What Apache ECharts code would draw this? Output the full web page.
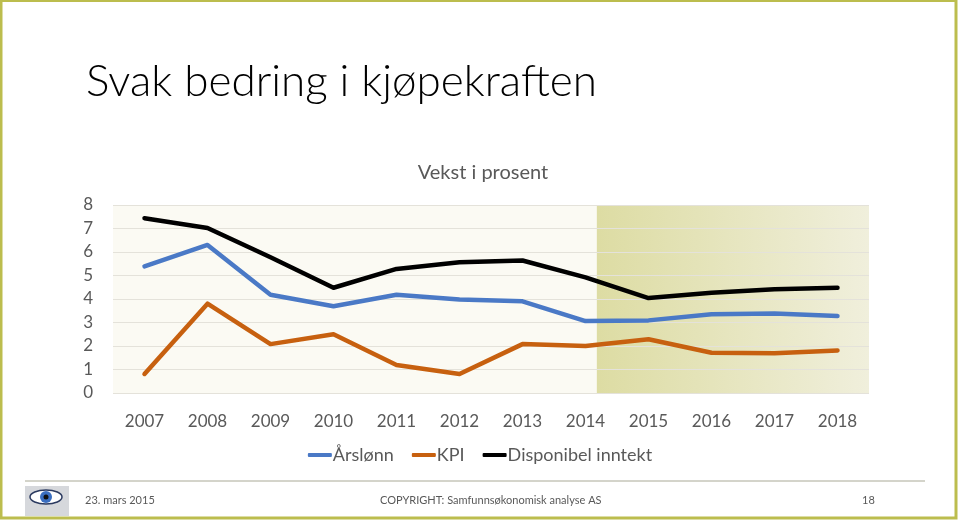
<!DOCTYPE html>
<html>
<head>
<meta charset="utf-8">
<script src="https://cdn.jsdelivr.net/npm/echarts@6/dist/echarts.min.js"></script>
<style>html,body{margin:0;padding:0;background:#fff}#c{width:960px;height:520px}</style>
</head>
<body>
<div id="c"></div>
<script>
var years = ['2007','2008','2009','2010','2011','2012','2013','2014','2015','2016','2017','2018'];
var arslonn = [5.39, 6.30, 4.18, 3.69, 4.18, 3.98, 3.90, 3.06, 3.09, 3.35, 3.38, 3.28];
var kpi = [0.81, 3.80, 2.08, 2.50, 1.19, 0.81, 2.08, 2.00, 2.29, 1.71, 1.69, 1.81];
var disponibel = [7.44, 7.02, 5.78, 4.48, 5.28, 5.56, 5.64, 4.92, 4.04, 4.27, 4.41, 4.48];
var seriesNames = ['Årslønn', 'KPI', 'Disponibel inntekt'];
var yTicks = [0, 8, 1];
var shadeFrom = 7.68;

var chart = echarts.init(document.getElementById('c'), null, {renderer: 'canvas'});
var font = 'Lato, "Open Sans", sans-serif';
var grey = '#595959';
function line(name, data, color) {
  return {name: name, type: 'line', data: data, symbol: 'none', smooth: false,
    lineStyle: {width: 4.5, color: color, cap: 'round', join: 'round'}, itemStyle: {color: color}, z: 3};
}
chart.setOption({
  animation: false,
  textStyle: {fontFamily: font},
  title: [
    {text: 'Svak bedring i kjøpekraften', left: 81, top: 55,
     textStyle: {fontFamily: font, fontWeight: 300, fontSize: 44, color: '#000'}},
    {text: 'Vekst i prosent', left: 478, top: 158, textAlign: 'center',
     textStyle: {fontFamily: font, fontWeight: 'normal', fontSize: 20, color: grey}}
  ],
  grid: {left: 113, right: 91, top: 205, bottom: 127, containLabel: false},
  legend: {data: seriesNames, top: 441, left: 'center', icon: 'roundRect', itemWidth: 24, itemHeight: 4,
    itemGap: 18, textStyle: {fontSize: 18, color: grey, fontFamily: font, padding: [0, 0, 0, -4]}},
  xAxis: [
    {type: 'category', data: years, boundaryGap: true,
     axisLine: {show: false}, axisTick: {show: false},
     axisLabel: {color: grey, fontSize: 17, margin: 20, fontFamily: font}},
    {type: 'value', min: 0, max: 12, show: false}
  ],
  yAxis: {type: 'value', min: yTicks[0], max: yTicks[1], interval: yTicks[2],
    axisLine: {show: false}, axisTick: {show: false},
    axisLabel: {color: grey, fontSize: 17, margin: 20, fontFamily: font},
    splitLine: {lineStyle: {color: '#e4e2da', width: 1}}},
  series: [
    {type: 'line', xAxisIndex: 1, data: [], silent: true, z: -5, zlevel: 0,
     markArea: {silent: true, z: -5, data: [
       [{xAxis: 0, itemStyle: {color: '#fbfaf3'}}, {xAxis: 12}],
       [{xAxis: shadeFrom, itemStyle: {color: {type: 'linear', x: 0, y: 0, x2: 1, y2: 0,
          colorStops: [{offset: 0, color: '#dddca3'}, {offset: 1, color: '#f0efdc'}]}}}, {xAxis: 12}]
     ]}},
    line(seriesNames[0], arslonn, '#4a79c6'),
    line(seriesNames[1], kpi, '#c7600f'),
    line(seriesNames[2], disponibel, '#000000')
  ],
  graphic: [
    {type: 'rect', shape: {x: 1, y: 0.5, width: 955, height: 517.5}, style: {fill: null, stroke: '#bcbd4e', lineWidth: 3}, z: 10},
    {type: 'line', shape: {x1: 25, y1: 481, x2: 925, y2: 481}, style: {stroke: '#a9a996', lineWidth: 1}},
    {type: 'rect', shape: {x: 25, y: 486, width: 44, height: 30}, style: {fill: '#d6d8dc'}},
    {type: 'ellipse', shape: {cx: 46, cy: 497, rx: 16, ry: 7}, style: {fill: '#ffffff', stroke: '#2b3a60', lineWidth: 1.5}},
    {type: 'circle', shape: {cx: 46, cy: 497, r: 6}, style: {fill: '#3a6ec0'}},
    {type: 'circle', shape: {cx: 46, cy: 497, r: 2.5}, style: {fill: '#111'}},
    {type: 'text', left: 85, top: 495, style: {text: '23. mars 2015', font: '11px ' + font, fill: grey}},
    {type: 'text', left: 380, top: 495, style: {text: 'COPYRIGHT: Samfunnsøkonomisk analyse AS', font: '11px ' + font, fill: grey}},
    {type: 'text', left: 862, top: 495, style: {text: '18', font: '11px ' + font, fill: grey}}
  ]
});
</script>
</body>
</html>
